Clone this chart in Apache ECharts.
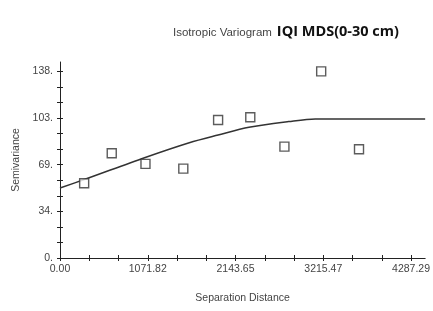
<!DOCTYPE html>
<html>
<head>
<meta charset="utf-8">
<script src="https://cdn.jsdelivr.net/npm/echarts@6/dist/echarts.min.js"></script>
<style>
  html, body { margin: 0; padding: 0; background: #fff; }
  #chart { width: 433px; height: 311px; }
</style>
</head>
<body>
<div id="chart"></div>
<script>
// experimental semivariance points
const lagDist = [295, 632, 1044, 1506, 1931, 2324, 2741, 3190, 3652];
const semivar = [55.3, 77.5, 69.6, 66.1, 102.1, 104.1, 82.4, 138.1, 80.4];
// fitted model line
const modelDist = [0, 304, 1032, 1579, 1931, 2308, 2793, 3118, 4460];
const modelVal = [51.8, 58.2, 74.2, 85.3, 91.0, 96.7, 100.9, 102.9, 102.9];
// ticks
const xLabelValues = [0, 1071.82, 2143.65, 3215.47, 4287.29];
const xLabelText = ['0.00', '1071.82', '2143.65', '3215.47', '4287.29'];
const xTickValues = [0, 357.27, 714.55, 1071.82, 1429.10, 1786.37, 2143.65, 2500.92, 2858.19, 3215.47, 3572.74, 3930.02, 4287.29];
const yLabelValues = [0, 34.5, 69, 103.5, 138];
const yLabelText = ['0.', '34.', '69.', '103.', '138.'];
const yTickValues = [0, 11.5, 23, 34.5, 46, 57.5, 69, 80.5, 92, 103.5, 115, 126.5, 138];

const chart = echarts.init(document.getElementById('chart'));
const font = 'Liberation Sans, Arial, sans-serif';
const axisCol = '#222';

function labelFor(values, texts) {
  return function (v) {
    for (let i = 0; i < values.length; i++) {
      if (Math.abs(values[i] - v) < 0.01) return texts[i];
    }
    return '';
  };
}

const xBase = { type: 'value', min: 0, max: 4460, splitLine: { show: false } };
const yBase = { type: 'value', min: 0, max: 145, splitLine: { show: false } };

chart.setOption({
  animation: false,
  title: {
    left: 168,
    top: 18,
    text: '{a|Isotropic Variogram} {b|IQI MDS(0-30 cm)}',
    textStyle: {
      fontWeight: 'normal',
      rich: {
        a: { fontSize: 11.5, fontWeight: 'normal', color: '#444', fontFamily: font, padding: [2, 0, 0, 0] },
        b: { fontSize: 14.5, fontWeight: 'bold', color: '#111', fontFamily: 'Open Sans, sans-serif' }
      }
    }
  },
  grid: { left: 60, right: 5, top: 62, bottom: 53 },
  xAxis: [
    Object.assign({}, xBase, {
      name: 'Separation Distance',
      nameLocation: 'middle',
      nameGap: 35,
      nameTextStyle: { fontSize: 10.5, color: '#444', fontFamily: font },
      axisLine: { lineStyle: { color: axisCol, width: 1 } },
      axisTick: { show: true, length: 3, customValues: xTickValues, lineStyle: { color: axisCol } },
      axisLabel: {
        customValues: xLabelValues,
        formatter: labelFor(xLabelValues, xLabelText),
        fontSize: 10.5, color: '#444', fontFamily: font, margin: 6
      }
    }),
    Object.assign({}, xBase, {
      position: 'bottom',
      axisLine: { show: false },
      axisTick: { show: true, inside: true, length: 3, customValues: xTickValues, lineStyle: { color: axisCol } },
      axisLabel: { show: false }
    })
  ],
  yAxis: [
    Object.assign({}, yBase, {
      name: 'Semivariance',
      nameLocation: 'middle',
      nameGap: 35,
      nameTextStyle: { fontSize: 10.5, color: '#444', fontFamily: font },
      axisLine: { show: true, lineStyle: { color: axisCol, width: 1 } },
      axisTick: { show: true, length: 3, customValues: yTickValues, lineStyle: { color: axisCol } },
      axisLabel: {
        customValues: yLabelValues,
        formatter: labelFor(yLabelValues, yLabelText),
        fontSize: 10.5, color: '#444', fontFamily: font, margin: 7
      }
    }),
    Object.assign({}, yBase, {
      position: 'left',
      axisLine: { show: false },
      axisTick: { show: true, inside: true, length: 3, customValues: yTickValues, lineStyle: { color: axisCol } },
      axisLabel: { show: false }
    })
  ],
  series: [
    {
      type: 'line',
      data: modelDist.map((d, i) => [d, modelVal[i]]),
      showSymbol: false,
      smooth: 0.3,
      lineStyle: { color: '#333', width: 1.5 },
      z: 2
    },
    {
      type: 'scatter',
      data: lagDist.map((d, i) => [d, semivar[i]]),
      symbol: 'rect',
      symbolSize: 9,
      itemStyle: { color: '#fff', borderColor: '#333', borderWidth: 1.4 },
      z: 3
    }
  ]
});
</script>
</body>
</html>
